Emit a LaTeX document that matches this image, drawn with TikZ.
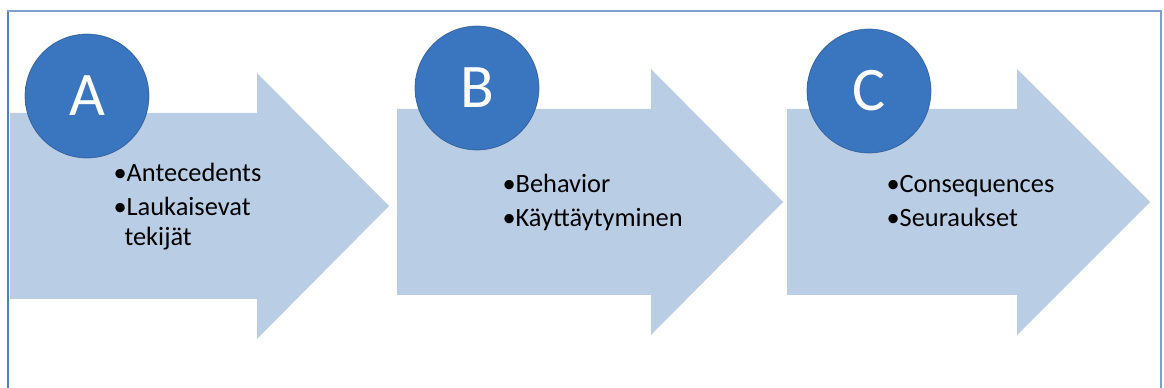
\documentclass[tikz,border=0pt]{standalone}
\usepackage{fontspec}
\setmainfont{Carlito}
\definecolor{arrowfill}{RGB}{185,205,229}
\definecolor{framecol}{RGB}{126,160,205}
\definecolor{frameleft}{RGB}{79,129,189}
\definecolor{btnmid}{RGB}{58,117,192}
\definecolor{btnedge}{RGB}{38,82,142}
\pgfdeclareradialshading{btnshade}{\pgfpoint{0bp}{0bp}}{color(0bp)=(btnmid); color(40bp)=(btnmid); color(46bp)=(btnmid!80!btnedge); color(50bp)=(btnedge)}
\tikzset{every picture/.style={line width=0.75pt}}
\tikzset{
  stagearrow/.style={draw opacity=0,fill=arrowfill},
  letterbtn/.style={circle,shading=btnshade,draw=btnedge!80!black,draw opacity=0.6,line width=0.5pt,minimum size=93pt,inner sep=0pt,text=white,font=\fontsize{46.5}{50}\selectfont},
  itemtext/.style={anchor=base west,inner sep=0pt,font=\fontsize{19.8}{23}\selectfont}
}

\begin{document}
\begin{tikzpicture}[x=0.75pt,y=0.75pt,yscale=-1,xscale=1]
\useasboundingbox (0,0) rectangle (1164,388);

%Shape: Frame
\draw [framecol,line width=1.5pt] (8,388) -- (8,11) -- (1161,11) -- (1161,388) ;
\draw [frameleft,line width=1.5pt] (8,388) -- (8,12) ;

%Shape: Right Arrow [A]
\draw [stagearrow] (10,113) -- (257,113) -- (257,73) -- (389,206) -- (257,339) -- (257,299) -- (10,299) -- cycle ;
%Shape: Circle [A]
\node [letterbtn] (btnA) at (87,96) {A};

%Shape: Right Arrow [B]
\draw [stagearrow] (397,109) -- (651,109) -- (651,69) -- (783,202) -- (651,335) -- (651,295) -- (397,295) -- cycle ;
%Shape: Circle [B]
\node [letterbtn] (btnB) at (477,88) {B};

%Shape: Right Arrow [C]
\draw [stagearrow] (787,109) -- (1017,109) -- (1017,69) -- (1150,202) -- (1017,335) -- (1017,295) -- (787,295) -- cycle ;
%Shape: Circle [C]
\node [letterbtn] (btnC) at (869,91) {C};

% Text Node
\node [itemtext] (antA) at (113,182) {•Antecedents};
% Text Node
\node [itemtext] (laukA) at (113,216) {•Laukaisevat};
% Text Node
\node [itemtext] (tekA) at (124,246) {tekijät};
% Text Node
\node [itemtext] (behB) at (502,193) {•Behavior};
% Text Node
\node [itemtext] (kayB) at (502,227) {•Käyttäytyminen};
% Text Node
\node [itemtext] (conC) at (886,193) {•Consequences};
% Text Node
\node [itemtext] (seuC) at (886,227) {•Seuraukset};

\end{tikzpicture}
\end{document}
